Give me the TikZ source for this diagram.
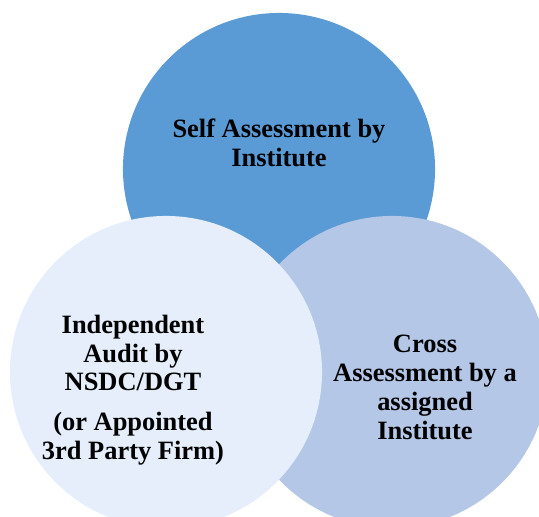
\documentclass[tikz,border=0pt]{standalone}
\usepackage{fontspec}
\setmainfont{Liberation Serif}

\definecolor{selfblue}{HTML}{5B9BD5}
\definecolor{crossblue}{HTML}{B4C7E7}
\definecolor{auditblue}{HTML}{E5EEFA}

\begin{document}
\begin{tikzpicture}[
  x=0.025cm, y=-0.025cm,
  ring/.style={circle, minimum size=7.8cm, inner sep=0pt, outer sep=0pt, draw=none},
  lbl/.style={align=center, inner sep=0pt, text=black,
              font=\fontsize{18.8}{20.6}\selectfont\bfseries},
]

\def\topy{169}  \def\lowy{372}
\def\selfx{279} \def\auditx{166} \def\crossx{392}

\useasboundingbox (0,0) rectangle (539,517);
\clip (0,0) rectangle (539,517);

% circles, back to front
\node[ring, fill=selfblue]  (self)  at (\selfx,\topy)  {};
\node[ring, fill=crossblue] (cross) at (\crossx,\lowy) {};
\node[ring, fill=auditblue] (audit) at (\auditx,\lowy) {};

% labels
\node[lbl] (selftxt)  at (279,142.4) {Self Assessment by\\Institute};
\node[lbl] (audittxt) at (133,390)   {Independent\\Audit by\\NSDC/DGT\\[7.6pt]
                                      (or Appointed\\3rd Party Firm)};
\node[lbl] (crosstxt) at (425,387.7) {Cross\\Assessment by a\\assigned\\Institute};

\end{tikzpicture}
\end{document}
